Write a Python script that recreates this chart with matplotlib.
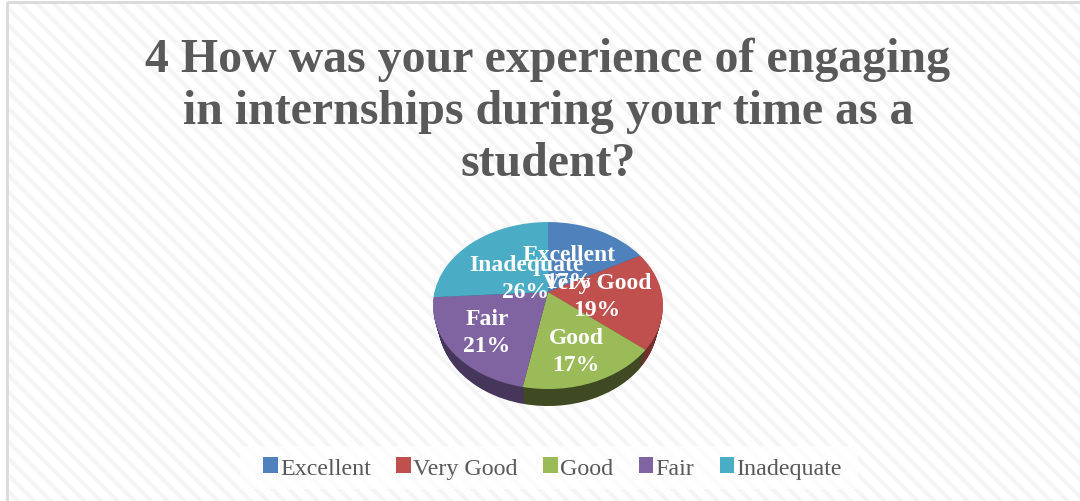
import matplotlib
matplotlib.use("Agg")
import matplotlib.pyplot as plt
import numpy as np
from matplotlib.patches import Rectangle
from matplotlib.transforms import Transform

plt.rcParams['font.family'] = ['Liberation Serif', 'DejaVu Serif']
plt.rcParams['hatch.linewidth'] = 3.0

title = "4 How was your experience of engaging\nin internships during your time as a\nstudent?"
categories = ["Excellent", "Very Good", "Good", "Fair", "Inadequate"]
shares = [17, 19, 17, 21, 26]
top_colors = ["#4f81bd", "#c0504d", "#9bbb59", "#8064a2", "#4bacc6"]
side_colors = ["#2f4d71", "#73302e", "#3f4a22", "#46365c", "#2d6777"]


class Tilt(Transform):
    """Perspective view of the unit pie, output in figure pixels."""
    input_dims = output_dims = 2

    def __init__(self, cx, cy, a, b, k):
        super().__init__()
        self.cx, self.cy, self.a, self.b, self.k = cx, cy, a, b, k

    def transform_non_affine(self, values):
        v = np.asarray(values, float)
        d = 1 - self.k * v[:, 1]
        return np.column_stack((self.cx + self.a * v[:, 0] / d,
                                self.cy - self.b * v[:, 1] / d))


fig = plt.figure(figsize=(10.8, 5.02), dpi=100, facecolor="white")
ax = fig.add_axes([0, 0, 1, 1])

# side of the disc: the same pie repeated downward, narrowing slightly
for depth in range(17, 0, -1):
    side, _ = ax.pie(shares, colors=side_colors, startangle=90, counterclock=False)
    for w in side:
        w.set_transform(Tilt(548, 293 + depth, 113.5 - 0.3 * depth, 81.3, -0.162) + ax.transData)
        w.set_zorder(2)
        w.set_clip_on(False)

wedges, _ = ax.pie(shares, colors=top_colors, startangle=90, counterclock=False)
for w in wedges:
    w.set_transform(Tilt(548, 293, 113.5, 81.3, -0.162) + ax.transData)
    w.set_zorder(3)
    w.set_clip_on(False)

ax.set_aspect("auto")
ax.set_xlim(0, 1080)
ax.set_ylim(502, 0)
ax.axis("off")

ax.add_patch(Rectangle((7, 3), 1090, 510, facecolor="white", edgecolor="#f5f5f5",
                       hatch="\\\\", lw=0, zorder=0))
ax.add_patch(Rectangle((7, 3), 1090, 510, facecolor="none", edgecolor="#d9d9d9",
                       lw=2, zorder=1))
# white band behind the legend
ax.add_patch(Rectangle((240, 447), 618, 43, facecolor="white", edgecolor="none",
                       alpha=0.75, zorder=1))

ax.text(548, 111.5, title, ha="center", va="center", fontsize=34.5, fontweight="bold",
        color="#595959", linespacing=1.24, zorder=5)

label_xy = [(569, 269), (597, 297), (576, 352), (487, 333), (526, 279)]
for name, share, (x, y) in zip(categories, shares, label_xy):
    ax.text(x, y, f"{name}\n{share}%", ha="center", va="center", fontsize=17,
            fontweight="bold", color="white", linespacing=1.35, zorder=6)

leg = ax.legend(wedges, categories, loc="center", bbox_to_anchor=(552.5, 469),
                bbox_transform=ax.transData, ncol=5, fontsize=17.3, frameon=False,
                handlelength=0.6, handleheight=0.6, handletextpad=0.1,
                columnspacing=1.06, borderpad=0.55, labelcolor="#595959")
leg.set_zorder(4)

fig.savefig("out.png", dpi=100, facecolor="white")
